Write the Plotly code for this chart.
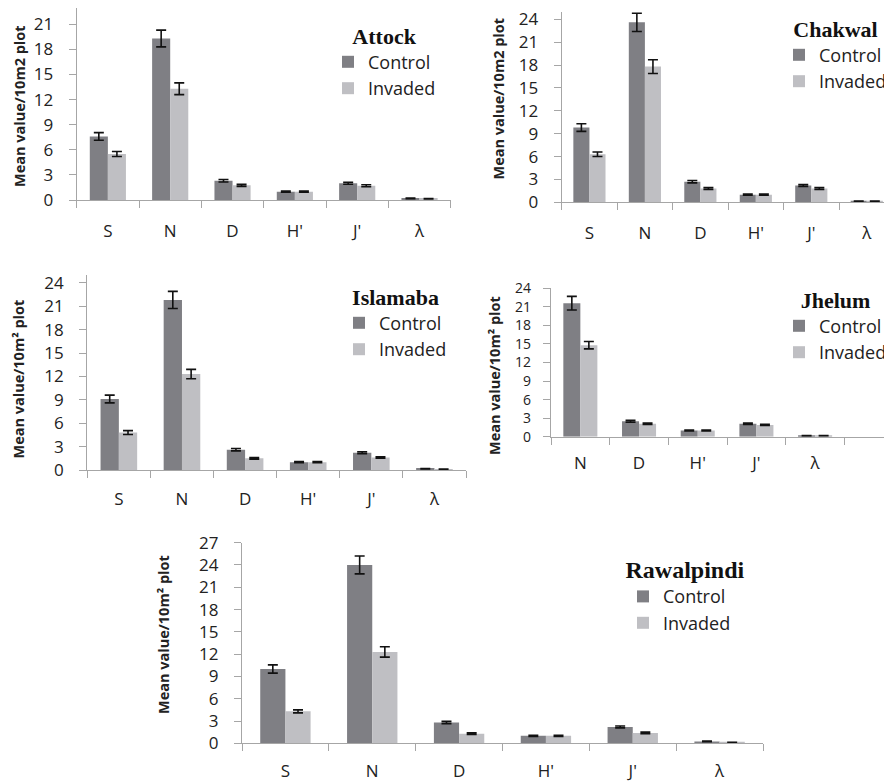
import plotly.graph_objects as go

W, H = 892, 783

# ---------------- data ----------------
cats = ["S", "N", "D", "H'", "J'", "λ"]
cats_jhelum = ["N", "D", "H'", "J'", "λ"]

attock_control = [7.6, 19.3, 2.3, 1.0, 2.0, 0.2]
attock_control_err = [0.45, 1.0, 0.15, 0.08, 0.12, 0.03]
attock_invaded = [5.5, 13.3, 1.75, 1.0, 1.7, 0.15]
attock_invaded_err = [0.3, 0.7, 0.12, 0.08, 0.12, 0.03]

chakwal_control = [9.8, 23.6, 2.7, 1.0, 2.2, 0.15]
chakwal_control_err = [0.5, 1.2, 0.15, 0.08, 0.12, 0.03]
chakwal_invaded = [6.3, 17.8, 1.8, 1.0, 1.8, 0.15]
chakwal_invaded_err = [0.3, 0.9, 0.12, 0.08, 0.12, 0.03]

islamaba_control = [9.1, 21.8, 2.6, 1.0, 2.2, 0.15]
islamaba_control_err = [0.5, 1.1, 0.15, 0.08, 0.12, 0.03]
islamaba_invaded = [4.8, 12.3, 1.5, 1.0, 1.6, 0.1]
islamaba_invaded_err = [0.25, 0.6, 0.1, 0.08, 0.1, 0.03]

jhelum_control = [21.6, 2.5, 1.0, 2.1, 0.15]
jhelum_control_err = [1.1, 0.15, 0.08, 0.12, 0.03]
jhelum_invaded = [14.8, 2.1, 1.0, 1.9, 0.15]
jhelum_invaded_err = [0.6, 0.12, 0.08, 0.1, 0.03]

rawalpindi_control = [10.0, 24.0, 2.8, 1.0, 2.2, 0.25]
rawalpindi_control_err = [0.55, 1.2, 0.15, 0.08, 0.12, 0.04]
rawalpindi_invaded = [4.3, 12.3, 1.3, 1.0, 1.4, 0.1]
rawalpindi_invaded_err = [0.2, 0.7, 0.1, 0.08, 0.1, 0.03]

site_names = ["Attock", "Chakwal", "Islamaba", "Jhelum", "Rawalpindi"]
y_titles = ["Mean value/10m2 plot", "Mean value/10m2 plot", "Mean value/10m² plot",
            "Mean value/10m² plot", "Mean value/10m² plot"]
y_tickvals = [list(range(0, 22, 3)), list(range(0, 25, 3)), list(range(0, 25, 3)),
              list(range(0, 25, 3)), list(range(0, 28, 3))]

# ---------------- styling / layout ----------------
C_CONTROL = "#7f7f84"
C_INVADED = "#bfbfc3"
AXIS_C = "#a6a6a6"
TXT = "#222222"
SANS = "Open Sans, Lato, DejaVu Sans, sans-serif"
SERIF = "Liberation Serif, Times New Roman, serif"

OFF = 8  # the page body offsets the figure by 8px


def px_x(v):
    return min(1.0, max(0.0, (v - OFF) / W))


def px_y(v):
    return min(1.0, max(0.0, 1 - (v - OFF) / H))


# panel geometry in page pixels
panels = [
    dict(x0=76.7, x1=450.7, yt=8.0, yz=200.0, xr=[-0.5, 5.5], ymax=22.95, xstand=15, ystand=12, yfs=17),
    dict(x0=561.7, x1=892.0, yt=11.7, yz=202.3, xr=[-0.5, 5.455], ymax=25, xstand=15, ystand=12, yfs=17),
    dict(x0=87.3, x1=466.0, yt=275.0, yz=470.0, xr=[-0.5, 5.5], ymax=25, xstand=13, ystand=12, yfs=17),
    dict(x0=551.0, x1=892.0, yt=288.3, yz=436.7, xr=[-0.5, 5.31], ymax=24, xstand=11, ystand=9, yfs=14),
    dict(x0=242.0, x1=763.0, yt=542.7, yz=743.3, xr=[-0.5, 5.5], ymax=27, xstand=12, ystand=12, yfs=17),
]
# legend: (left page px or None for right-anchored at page edge, top page px)
legend_pos = [(328, 15), (None, 4), (339, 276), (None, 279), (623, 547)]
title_sizes = [22, 22, 22, 22, 24]
ytitle_pos = [(19, 106), (497.5, 99), (17.5, 379), (494, 376), (163, 635)]

data_sets = [
    (cats, attock_control, attock_control_err, attock_invaded, attock_invaded_err),
    (cats, chakwal_control, chakwal_control_err, chakwal_invaded, chakwal_invaded_err),
    (cats, islamaba_control, islamaba_control_err, islamaba_invaded, islamaba_invaded_err),
    (cats_jhelum, jhelum_control, jhelum_control_err, jhelum_invaded, jhelum_invaded_err),
    (cats, rawalpindi_control, rawalpindi_control_err, rawalpindi_invaded, rawalpindi_invaded_err),
]

fig = go.Figure()
layout = dict(
    template="none",
    width=W, height=H, margin=dict(l=0, r=0, t=0, b=0, pad=0, autoexpand=False),
    paper_bgcolor="white", plot_bgcolor="white",
    barmode="group", bargap=0.42, bargroupgap=0,
    font=dict(family=SANS, color=TXT),
    annotations=[],
)

for i, (name, ds, pn) in enumerate(zip(site_names, data_sets, panels)):
    k = "" if i == 0 else str(i + 1)
    xa, ya = "x" + k, "y" + k
    lg = "legend" + k
    cl, cv, ce, iv, ie = ds
    for sname, vals, errs, col in (("Control", cv, ce, C_CONTROL), ("Invaded", iv, ie, C_INVADED)):
        fig.add_trace(go.Bar(
            x=cl, y=vals, name=sname, marker=dict(color=col, line=dict(width=0)),
            error_y=dict(type="data", array=errs, visible=True, color="#111111",
                         thickness=1.6, width=5),
            xaxis=xa, yaxis=ya, legend=lg, showlegend=True,
        ))
    layout["xaxis" + k] = dict(
        domain=[px_x(pn["x0"]), px_x(pn["x1"])], anchor=ya, type="category",
        categoryorder="array", categoryarray=cl, range=pn["xr"], automargin=False,
        showline=True, linecolor=AXIS_C, linewidth=1.2,
        ticks="outside", tickson="boundaries", ticklen=7, tickcolor=AXIS_C, tickwidth=1.2,
        tickfont=dict(family=SANS, size=17, color=TXT), ticklabelstandoff=pn["xstand"],
        ticklabeloverflow="allow",
        showgrid=False, zeroline=False, fixedrange=True,
    )
    layout["yaxis" + k] = dict(
        domain=[px_y(pn["yz"]), px_y(pn["yt"])], anchor=xa, automargin=False,
        range=[0, pn["ymax"]], tickmode="array", tickvals=y_tickvals[i],
        showline=True, linecolor=AXIS_C, linewidth=1.2,
        ticks="outside", ticklen=7, tickcolor=AXIS_C, tickwidth=1.2,
        tickfont=dict(family=SANS, size=pn["yfs"], color=TXT), ticklabelstandoff=pn["ystand"],
        ticklabeloverflow="allow",
        showgrid=False, zeroline=False, fixedrange=True,
    )
    lx, ly = legend_pos[i]
    leg = dict(
        y=px_y(ly), yanchor="top",
        bgcolor="rgba(0,0,0,0)", borderwidth=0,
        font=dict(family=SANS, size=18, color=TXT),
        title=dict(text="<b>" + name + "</b>", side="top center",
                   font=dict(family=SERIF, size=title_sizes[i], color="#111111")),
        itemclick=False, itemdoubleclick=False,
    )
    if lx is None:
        leg.update(x=px_x(892), xanchor="right")
    else:
        leg.update(x=px_x(lx), xanchor="left")
    layout[lg] = leg
    tx, tyy = ytitle_pos[i]
    layout["annotations"].append(dict(
        text="<b>" + y_titles[i] + "</b>", x=px_x(tx), y=px_y(tyy), xref="paper", yref="paper",
        xanchor="center", yanchor="middle", textangle=-90, showarrow=False,
        font=dict(family=SANS, size=14.5, color=TXT),
    ))

fig.update_layout(**layout)
fig.write_html("out.html")
